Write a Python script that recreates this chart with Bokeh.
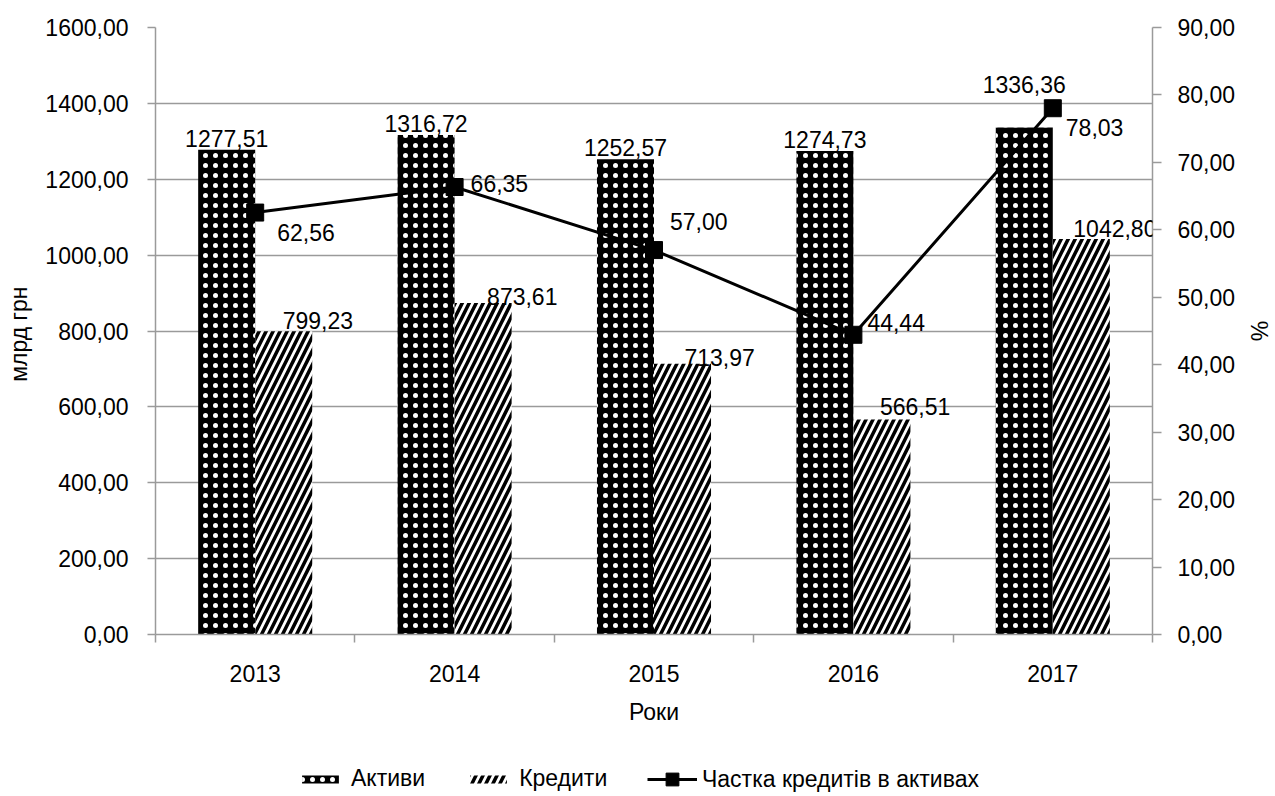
from bokeh.plotting import figure
from bokeh.layouts import column
from bokeh.models import (ColumnDataSource, Range1d, LinearAxis, FixedTicker,
                          CustomJSTickFormatter, LabelSet, Legend, LegendItem)
from bokeh.transform import dodge
from bokeh.core.properties import value
from bokeh.embed import file_html
from bokeh.resources import INLINE

# ---- data ----
years = ["2013", "2014", "2015", "2016", "2017"]
assets = [1277.51, 1316.72, 1252.57, 1274.73, 1336.36]
loans = [799.23, 873.61, 713.97, 566.51, 1042.80]
share = [62.56, 66.35, 57.00, 44.44, 78.03]
left_ticks = [0, 200, 400, 600, 800, 1000, 1200, 1400, 1600]
right_ticks = [0, 10, 20, 30, 40, 50, 60, 70, 80, 90]

# label placement offsets (screen px)
assets_lbl_dy = [3, 3, 3, 3, 35]
loans_lbl_dx = [-1, 4, 2, -2, -8]
loans_lbl_dy = [2, -2, -2, 5, 2]
share_lbl_dx = [22, 16, 16, 14, 13]
share_lbl_dy = [-20, 4, 29, 12, -19]

FONT = "Liberation Sans"
FS = "23px"
GRAY = "#9a9a9a"

# hatch styles
ASSET_STYLE = dict(fill_color="black", line_color=None, hatch_pattern="dot",
                   hatch_color="white", hatch_scale=10, hatch_weight=1)
LOAN_STYLE = dict(fill_color="white", line_color=None, hatch_pattern="right_diagonal_line",
                  hatch_color="black", hatch_scale=14, hatch_weight=3.5)


def fmt(v):
    return f"{v:.2f}".replace(".", ",")


xc = [i + 0.5 for i in range(len(years))]
src = ColumnDataSource(dict(
    x=xc, year=years, assets=assets, loans=loans, share=share,
    assets_lbl=[fmt(v) for v in assets], loans_lbl=[fmt(v) for v in loans],
    share_lbl=[fmt(v) for v in share],
    a_dy=assets_lbl_dy, l_dx=loans_lbl_dx, l_dy=loans_lbl_dy,
    s_dx=share_lbl_dx, s_dy=share_lbl_dy,
))

p = figure(width=1275, height=740, x_range=Range1d(0, len(years)),
           y_range=Range1d(left_ticks[0], left_ticks[-1]),
           output_backend="svg", toolbar_location=None,
           min_border_left=155, min_border_right=123,
           min_border_top=27, min_border_bottom=106,
           x_axis_label="Роки", y_axis_label="млрд  грн")
p.outline_line_color = None
p.xgrid.visible = False

num_fmt = "return tick.toFixed(2).replace('.', ',');"

yax = p.yaxis[0]
yax.ticker = FixedTicker(ticks=left_ticks)
yax.formatter = CustomJSTickFormatter(code=num_fmt)
yax.major_label_standoff = 19
yax.axis_label_standoff = 10
p.ygrid[0].ticker = FixedTicker(ticks=left_ticks)
p.ygrid.grid_line_color = GRAY
p.ygrid.grid_line_width = 1.5

xax = p.xaxis[0]
xax.ticker = FixedTicker(ticks=xc, minor_ticks=list(range(len(years) + 1)))
xax.formatter = CustomJSTickFormatter(args=dict(years=years),
                                      code="return years[Math.floor(tick)];")
xax.major_tick_out = 0
xax.major_tick_in = 0
xax.minor_tick_out = 8
xax.minor_tick_in = 0
xax.minor_tick_line_color = GRAY
xax.minor_tick_line_width = 1.5
xax.major_label_standoff = 22
xax.axis_label_standoff = 14

p.extra_y_ranges = {"pct": Range1d(right_ticks[0], right_ticks[-1])}
rax = LinearAxis(y_range_name="pct", ticker=FixedTicker(ticks=right_ticks),
                 formatter=CustomJSTickFormatter(code=num_fmt), axis_label="%")
rax.major_label_standoff = 16
rax.axis_label_standoff = 8
p.add_layout(rax, "right")

for ax in [xax, yax, rax]:
    ax.axis_line_color = GRAY
    ax.axis_line_width = 1.5
    ax.major_tick_line_color = GRAY
    ax.major_tick_line_width = 1.5
    ax.major_label_text_font = FONT
    ax.major_label_text_font_size = FS
    ax.major_label_text_color = "black"
    ax.axis_label_text_font = FONT
    ax.axis_label_text_font_size = FS
    ax.axis_label_text_font_style = "normal"
    ax.axis_label_text_color = "black"
for ax in [yax, rax]:
    ax.major_tick_out = 8
    ax.major_tick_in = 0
    ax.minor_tick_line_color = None
rax.major_tick_out = 9

bw = 0.286
p.vbar(x=dodge("x", -bw / 2), top="assets", width=bw, source=src, **ASSET_STYLE)
p.vbar(x=dodge("x", bw / 2), top="loans", width=bw, source=src, **LOAN_STYLE)

p.line("x", "share", source=src, y_range_name="pct", line_color="black", line_width=3)
p.scatter("x", "share", source=src, y_range_name="pct", marker="square",
          size=17, fill_color="black", line_color="black")

common = dict(text_font=value(FONT), text_font_size=value(FS), text_color="black")
p.add_layout(LabelSet(x=dodge("x", -bw / 2), y="assets", text="assets_lbl", source=src,
                      y_offset="a_dy", text_align="center", text_baseline="alphabetic",
                      **common))
p.add_layout(LabelSet(x=dodge("x", bw / 2), y="loans", text="loans_lbl", source=src,
                      x_offset="l_dx", y_offset="l_dy", text_align="left",
                      text_baseline="alphabetic", **common))
p.add_layout(LabelSet(x="x", y="share", text="share_lbl", source=src, y_range_name="pct",
                      x_offset="s_dx", y_offset="s_dy", text_align="left",
                      text_baseline="middle", **common))

# ---- legend strip (separate figure below the chart; its frame is aligned with the chart's) ----
# The same data is drawn here far outside the visible y-range, only so the legend has glyphs.
lf = figure(width=1275, height=56, x_range=Range1d(0, len(years)),
            y_range=Range1d(100000, 200000),
            output_backend="svg", toolbar_location=None,
            x_axis_location=None, y_axis_location=None, min_border=0)
lf.outline_line_color = None
lf.grid.visible = False
la = lf.vbar(x="x", top="assets", width=bw, source=src, **ASSET_STYLE)
ll = lf.vbar(x="x", top="loans", width=bw, source=src, **LOAN_STYLE)
lline = lf.line("x", "share", source=src, line_color="black", line_width=3)
lmark = lf.scatter("x", "share", source=src, marker="square", size=17,
                   fill_color="black", line_color="black")

leg_style = dict(orientation="horizontal", padding=0, margin=0, border_line_color=None,
                 background_fill_alpha=0, label_text_font=FONT, label_text_font_size=FS,
                 label_text_color="black")
leg1 = Legend(items=[LegendItem(label="Активи", renderers=[la]),
                     LegendItem(label="Кредити", renderers=[ll])],
              location=(142, 4), glyph_width=46, glyph_height=10,
              label_standoff=8, spacing=40, **leg_style)
leg2 = Legend(items=[LegendItem(label="Частка кредитів в активах",
                                renderers=[lline, lmark])],
              location=(492, 1), glyph_width=50, glyph_height=32,
              label_standoff=5, spacing=0, **leg_style)
lf.add_layout(leg1, "center")
lf.add_layout(leg2, "center")

layout = column(p, lf, spacing=0)
open("out.html", "w").write(file_html(layout, INLINE))
